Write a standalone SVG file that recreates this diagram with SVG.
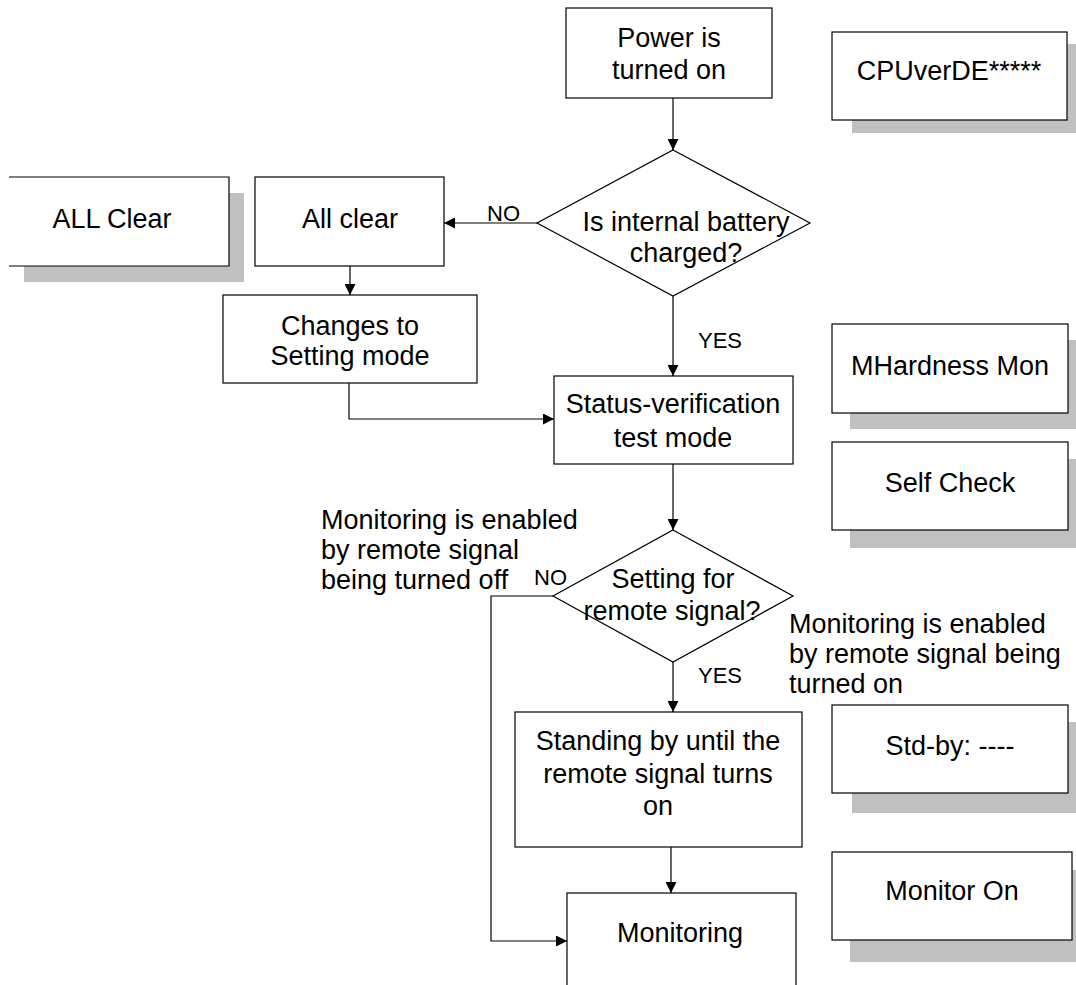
<svg xmlns="http://www.w3.org/2000/svg" width="1076" height="985" viewBox="0 0 1076 985">
<style>
.box{fill:#fff;stroke:#000;stroke-width:1.2}
.sh{fill:#c0c0c0;stroke:none}
.t{font-family:"Liberation Sans",Arial,sans-serif;font-size:27px;fill:#000;text-anchor:middle}
.tl{font-family:"Liberation Sans",Arial,sans-serif;font-size:27px;fill:#000}
.s{font-family:"Liberation Sans",Arial,sans-serif;font-size:22px;fill:#000}
.c{fill:none;stroke:#000;stroke-width:1.2}
</style>
<defs>
<marker id="ah" markerUnits="userSpaceOnUse" markerWidth="11" markerHeight="11" refX="11" refY="5.5" orient="auto">
<path d="M0,0 L11,5.5 L0,11 z" fill="#000"/>
</marker>
</defs>
<rect width="1076" height="985" fill="#fff"/>

<g id="power">
<rect class="box" x="566" y="8" width="206" height="90"/>
<text class="t" x="669" y="47">Power is</text>
<text class="t" x="669" y="79">turned on</text>
</g>

<g id="cpuver">
<rect class="sh" x="852" y="44" width="224" height="89"/>
<rect class="box" x="832" y="32" width="235" height="88"/>
<text class="t" x="949" y="80">CPUverDE*****</text>
</g>

<g id="battery-check">
<polygon class="box" points="673,150 810,223 673,296 537,223"/>
<text class="t" x="686" y="231">Is internal battery</text>
<text class="t" x="686" y="262">charged?</text>
</g>

<g id="allclear-display">
<rect class="sh" x="24" y="193" width="220" height="89"/>
<rect x="9" y="177" width="220" height="89" fill="#fff"/>
<path class="c" d="M9,177 L229,177 L229,266 L9,266"/>
<text class="t" x="112" y="228">ALL Clear</text>
</g>

<g id="allclear">
<rect class="box" x="255" y="177" width="189" height="89"/>
<text class="t" x="350" y="228">All clear</text>
</g>

<g id="changes">
<rect class="box" x="223" y="295" width="254" height="88"/>
<text class="t" x="350" y="335">Changes to</text>
<text class="t" x="350" y="365">Setting mode</text>
</g>

<g id="mhardness">
<rect class="sh" x="850" y="340" width="226" height="89"/>
<rect class="box" x="832" y="324" width="236" height="89"/>
<text class="t" x="950" y="375">MHardness Mon</text>
</g>

<g id="status">
<rect class="box" x="554" y="376" width="239" height="88"/>
<text class="t" x="673" y="413">Status-verification</text>
<text class="t" x="673" y="447">test mode</text>
</g>

<g id="selfcheck">
<rect class="sh" x="850" y="459" width="226" height="89"/>
<rect class="box" x="832" y="442" width="236" height="88"/>
<text class="t" x="950" y="492">Self Check</text>
</g>

<g id="label-off">
<text class="tl" x="321" y="529">Monitoring is enabled</text>
<text class="tl" x="321" y="559">by remote signal</text>
<text class="tl" x="321" y="589">being turned off</text>
</g>

<g id="remote-check">
<polygon class="box" points="673,530 793,596 673,662 553,596"/>
<text class="t" x="673" y="588">Setting for</text>
<text class="t" x="672" y="620">remote signal?</text>
</g>

<g id="label-on">
<text class="tl" x="789" y="633">Monitoring is enabled</text>
<text class="tl" x="789" y="663">by remote signal being</text>
<text class="tl" x="789" y="693">turned on</text>
</g>

<g id="standing">
<rect class="box" x="515" y="712" width="287" height="135"/>
<text class="t" x="658" y="750">Standing by until the</text>
<text class="t" x="658" y="783">remote signal turns</text>
<text class="t" x="658" y="815">on</text>
</g>

<g id="stdby">
<rect class="sh" x="852" y="722" width="224" height="91"/>
<rect class="box" x="832" y="705" width="236" height="88"/>
<text class="t" x="950" y="755">Std-by: ----</text>
</g>

<g id="monitoring">
<rect class="box" x="567" y="893" width="229" height="120"/>
<text class="t" x="680" y="942">Monitoring</text>
</g>

<g id="monitoron">
<rect class="sh" x="850" y="870" width="226" height="92"/>
<rect class="box" x="832" y="852" width="240" height="88"/>
<text class="t" x="952" y="900">Monitor On</text>
</g>

<g id="connectors">
<path class="c" d="M673,98 L673,150" marker-end="url(#ah)"/>
<path class="c" d="M537,223 L444,223" marker-end="url(#ah)"/>
<path class="c" d="M350,266 L350,295" marker-end="url(#ah)"/>
<path class="c" d="M673,296 L673,376" marker-end="url(#ah)"/>
<path class="c" d="M349,383 L349,419 L554,419" marker-end="url(#ah)"/>
<path class="c" d="M673,464 L673,530" marker-end="url(#ah)"/>
<path class="c" d="M553,596 L491,596 L491,941 L567,941" marker-end="url(#ah)"/>
<path class="c" d="M673,662 L673,712" marker-end="url(#ah)"/>
<path class="c" d="M671,847 L671,893" marker-end="url(#ah)"/>
<text class="s" x="487" y="221">NO</text>
<text class="s" x="698" y="348">YES</text>
<text class="s" x="534" y="585">NO</text>
<text class="s" x="698" y="683">YES</text>
</g>
</svg>
